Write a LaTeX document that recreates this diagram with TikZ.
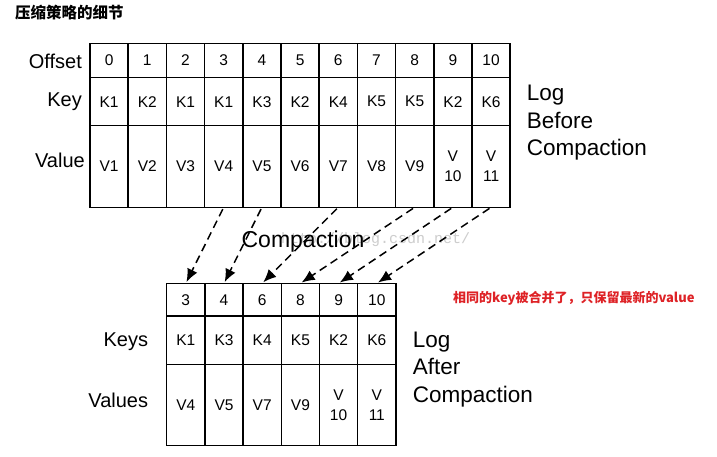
\documentclass[tikz,border=0pt]{standalone}
\usepackage{fontspec}
\setmainfont{Liberation Sans}
\newfontfamily\cjk{Noto Sans CJK SC}
\newfontfamily\wmfont{Liberation Mono}
\usetikzlibrary{arrows.meta}
\definecolor{redtxt}{RGB}{222,34,38}
\definecolor{wmgray}{RGB}{205,205,205}
\begin{document}
\begin{tikzpicture}[x=1pt,y=-1pt,
  cell/.style={draw, line width=1.5pt, inner sep=0pt, outer sep=0pt, align=center,
    minimum width=38.2pt, font=\fontsize{15.5}{20}\selectfont},
  rowlabel/.style={anchor=east, inner sep=0pt, font=\fontsize{20}{22}\selectfont},
  biglabel/.style={anchor=west, inner sep=0pt, align=left, font=\fontsize{22.5}{27.5}\selectfont},
  movearrow/.style={line width=1.5pt, dash pattern=on 8pt off 5pt,
    -{Latex[length=13pt,width=11pt]}, shorten <=2pt, shorten >=1.5pt}]
\useasboundingbox (0,0) rectangle (717,457);
\fill[white] (0,0) rectangle (717,457);

% title
\node[anchor=west, inner sep=0pt, font=\cjk\bfseries\fontsize{15.5}{16}\selectfont] (title) at (15,13) {压缩策略的细节};

% top table
\def\topkeys{{"K1","K2","K1","K1","K3","K2","K4","K5","K5","K2","K6"}}
\def\topvals{{"V1","V2","V3","V4","V5","V6","V7","V8","V9","V\\10","V\\11"}}
\foreach \i in {0,...,10} {
  \pgfmathsetmacro{\cx}{90+38.2*\i+19.1}
  \pgfmathsetmacro{\kk}{\topkeys[\i]}
  \pgfmathsetmacro{\vv}{\topvals[\i]}
  \node[cell, minimum height=34.4pt] (o\i) at (\cx,60.5) {\i};
  \node[cell, minimum height=48pt] (k\i) at (\cx,101.7) {\kk};
  \node[cell, minimum height=81.6pt] (v\i) at (\cx,166.5) {\vv};
}
\node[rowlabel] (loff) at (82,61.5) {Offset};
\node[rowlabel] (lkey) at (82,101.7) {Key};
\node[rowlabel] (lval) at (85,160) {Value};
\node[biglabel] (lbefore) at (526.7,122.7) {Log\\Before\\Compaction};

% watermark and middle label
\node[anchor=west, inner sep=0pt, text=wmgray, font=\wmfont\fontsize{15}{16}\selectfont] (wm) at (281,240) {http://blog.csdn.net/};
\node[inner sep=0pt, font=\fontsize{23}{26}\selectfont] (comp) at (303,241.7) {Compaction};

% bottom table
\def\botoffs{{"3","4","6","8","9","10"}}
\def\botkeys{{"K1","K3","K4","K5","K2","K6"}}
\def\botvals{{"V4","V5","V7","V9","V\\10","V\\11"}}
\foreach \j in {1,...,6} {
  \pgfmathsetmacro{\cx}{166.7+38.2*(\j-1)+19.1}
  \pgfmathsetmacro{\oo}{\botoffs[\j-1]}
  \pgfmathsetmacro{\kk}{\botkeys[\j-1]}
  \pgfmathsetmacro{\vv}{\botvals[\j-1]}
  \node[cell, minimum height=32.7pt] (bo\j) at (\cx,299.7) {\oo};
  \node[cell, minimum height=48.3pt] (bk\j) at (\cx,340.2) {\kk};
  \node[cell, minimum height=81.4pt] (bv\j) at (\cx,405) {\vv};
}
\node[rowlabel] (lkeys) at (148.3,341.7) {Keys};
\node[rowlabel] (lvals) at (148.3,400) {Values};
\node[biglabel] (lafter) at (412.7,369.5) {Log\\After\\Compaction};

% red note
\node[anchor=west, inner sep=0pt, text=redtxt, font=\cjk\bfseries\fontsize{13}{14}\selectfont] (note) at (453,298.3) {相同的key被合并了，只保留最新的value};

% arrows
\draw[movearrow] (v3.south) -- (bo1.north);
\draw[movearrow] (v4.south) -- (bo2.north);
\draw[movearrow] (v6.south) -- (bo3.north);
\draw[movearrow] (v8.south) -- (bo4.north);
\draw[movearrow] (v9.south) -- (bo5.north);
\draw[movearrow] (v10.south) -- (bo6.north);
\end{tikzpicture}
\end{document}
